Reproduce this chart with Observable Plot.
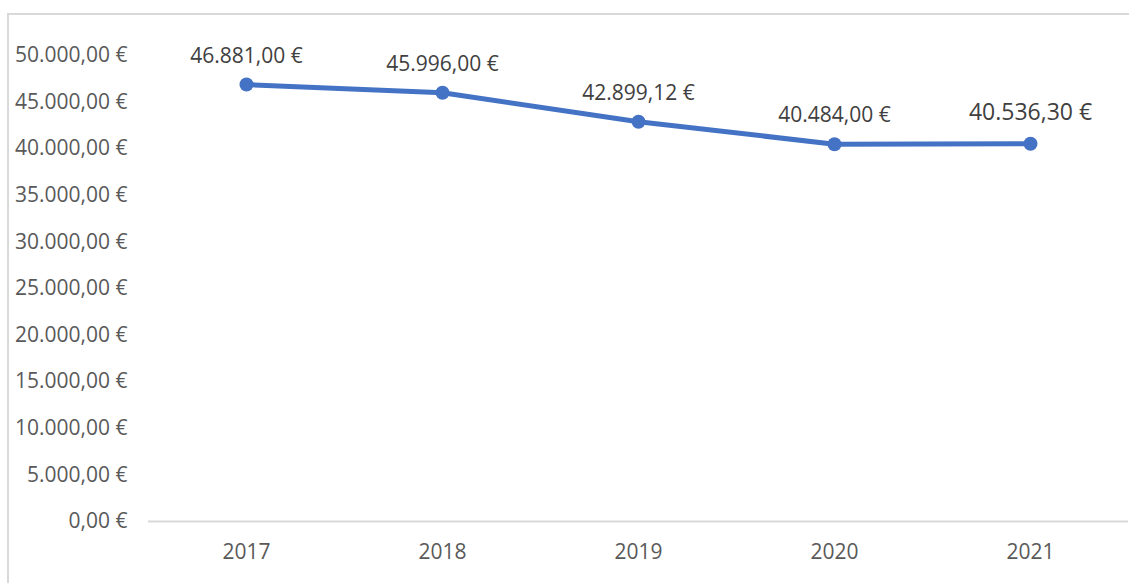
<!DOCTYPE html>
<html>
<head>
<meta charset="utf-8">
<script src="https://cdn.jsdelivr.net/npm/d3@7"></script>
<script src="https://cdn.jsdelivr.net/npm/@observablehq/plot@0.6"></script>
<style>
  html, body { margin: 0; padding: 0; background: #fff; overflow: hidden; }
  #wrap { position: relative; width: 1129px; height: 583px; }
  #border { position: absolute; left: 7px; top: 13px; width: 1200px; height: 700px;
            border: 2px solid #d9d9d9; box-sizing: border-box; }
  #chart { position: absolute; left: 0; top: 0; }
  svg text { font-family: "Open Sans", sans-serif; }
</style>
</head>
<body>
<div id="wrap"><div id="border"></div><div id="chart"></div></div>
<script>
const years = ["2017", "2018", "2019", "2020", "2021"];
const values = [46881.00, 45996.00, 42899.12, 40484.00, 40536.30];
const yTicks = [0, 5000, 10000, 15000, 20000, 25000, 30000, 35000, 40000, 45000, 50000];
const labelSizes = [21, 21, 21, 21, 23];

const data = years.map((y, i) => ({year: y, value: values[i], size: labelSizes[i]}));
const locale = d3.formatLocale({decimal: ",", thousands: ".", grouping: [3], currency: ["", " €"]});
const eur = locale.format("$,.2f");

const plot = Plot.plot({
  width: 1129,
  height: 583,
  marginLeft: 148,
  marginRight: 1,
  marginTop: 55,
  marginBottom: 62,
  style: {fontFamily: "'Open Sans', sans-serif", fontSize: "21px", color: "#595959", background: "transparent"},
  x: {type: "point", domain: years, padding: 0.5, axis: null, label: null},
  y: {domain: [0, 50000], axis: null, label: null},
  marks: [
    Plot.axisY({ticks: yTicks, tickFormat: eur, tickSize: 0, tickPadding: 21, fontSize: 21, fill: "#595959", label: null}),
    Plot.axisX({tickSize: 0, tickPadding: 21, fontSize: 21, fill: "#595959", lineAnchor: "middle", dy: 10, label: null}),
    Plot.ruleY([0], {stroke: "#d9d9d9", strokeWidth: 2}),
    Plot.line(data, {x: "year", y: "value", stroke: "#4472C4", strokeWidth: 5}),
    Plot.dot(data, {x: "year", y: "value", r: 7, fill: "#4472C4", stroke: "none"}),
    Plot.text(data.slice(0, 4), {x: "year", y: "value", text: d => eur(d.value), lineAnchor: "bottom", dy: -22, fontSize: 21, fill: "#404040"}),
    Plot.text(data.slice(4), {x: "year", y: "value", text: d => eur(d.value), lineAnchor: "bottom", dy: -24, fontSize: 23, fill: "#404040"})
  ]
});
document.getElementById("chart").appendChild(plot);
</script>
</body>
</html>
